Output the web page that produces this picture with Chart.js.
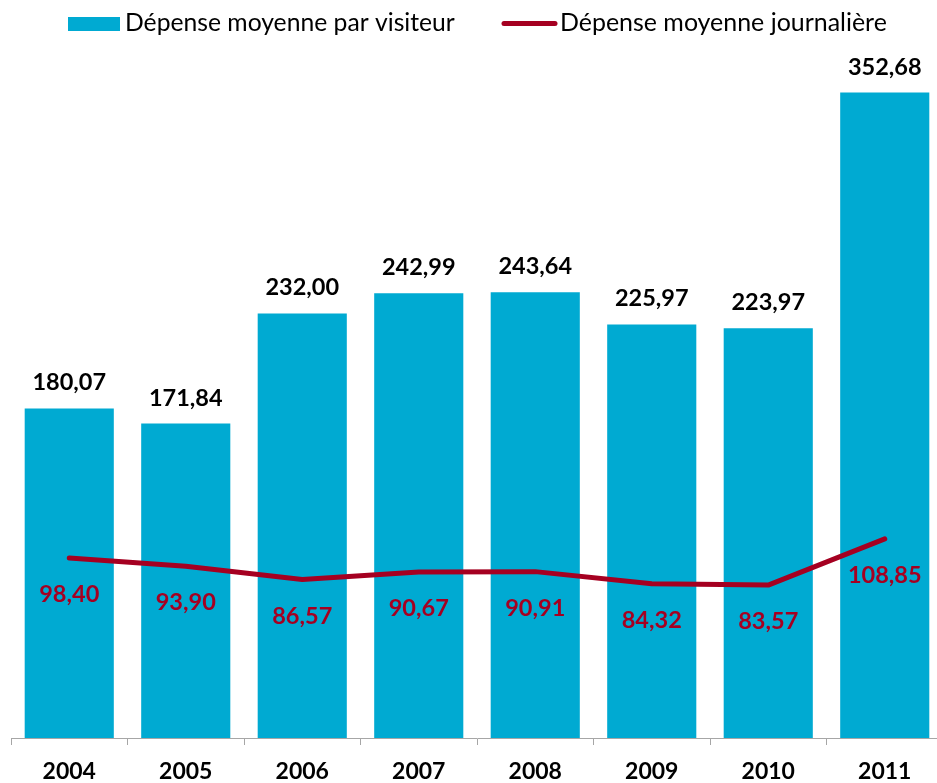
<!DOCTYPE html>
<html>
<head>
<meta charset="utf-8">
<script src="https://cdn.jsdelivr.net/npm/chart.js@4/dist/chart.umd.min.js"></script>
<style>
  html, body { margin: 0; padding: 0; background: #fff; overflow: hidden; width: 937px; height: 783px; }
  #wrap { position: relative; width: 945px; height: 783px; }
  canvas { position: absolute; left: 0; top: 0; }
</style>
</head>
<body>
<div id="wrap">
  <canvas id="c" width="945" height="783"></canvas>
</div>
<script>
const categories = ["2004", "2005", "2006", "2007", "2008", "2009", "2010", "2011"];
const spendPerVisitor = [180.07, 171.84, 232.00, 242.99, 243.64, 225.97, 223.97, 352.68];
const spendPerDay = [98.40, 93.90, 86.57, 90.67, 90.91, 84.32, 83.57, 108.85];
const seriesNames = ["Dépense moyenne par visiteur", "Dépense moyenne journalière"];

const BAR_COLOR = '#00AAD2';
const LINE_COLOR = '#A50021';
const FONT = 'Lato, "Open Sans", sans-serif';

const fmt = v => v.toFixed(2).replace('.', ',');

function fitFont(ctx, text, weight, targetWidth) {
  ctx.font = weight + ' 20px ' + FONT;
  const w = ctx.measureText(text).width;
  return 20 * targetWidth / w;
}

const labelPlugin = {
  id: 'valueLabels',
  afterDatasetsDraw(chart) {
    const ctx = chart.ctx;
    ctx.save();
    ctx.textAlign = 'center';
    ctx.textBaseline = 'alphabetic';
    ctx.font = 'bold 23.5px ' + FONT;
    const barMeta = chart.getDatasetMeta(1);
    barMeta.data.forEach((el, i) => {
      ctx.fillStyle = '#000';
      ctx.fillText(fmt(spendPerVisitor[i]), el.x, el.y - 18);
    });
    const lineMeta = chart.getDatasetMeta(0);
    lineMeta.data.forEach((el, i) => {
      ctx.fillStyle = LINE_COLOR;
      ctx.fillText(fmt(spendPerDay[i]), el.x, el.y + 44);
    });
    ctx.restore();
  }
};

const legendPlugin = {
  id: 'customLegend',
  afterDraw(chart) {
    const ctx = chart.ctx;
    ctx.save();
    // bar legend
    ctx.fillStyle = BAR_COLOR;
    ctx.fillRect(68, 17, 52, 14);
    ctx.fillStyle = '#000';
    ctx.textAlign = 'left';
    ctx.textBaseline = 'alphabetic';
    let s1 = fitFont(ctx, seriesNames[0], 'normal', 330);
    ctx.font = 'normal ' + s1 + 'px ' + FONT;
    ctx.fillText(seriesNames[0], 125, 31);
    // line legend
    ctx.strokeStyle = LINE_COLOR;
    ctx.lineWidth = 5;
    ctx.lineCap = 'round';
    ctx.beginPath();
    ctx.moveTo(504, 23.5);
    ctx.lineTo(555, 23.5);
    ctx.stroke();
    let s2 = fitFont(ctx, seriesNames[1], 'normal', 327);
    ctx.font = 'normal ' + s2 + 'px ' + FONT;
    ctx.fillStyle = '#000';
    ctx.fillText(seriesNames[1], 560, 31);
    ctx.restore();
  }
};

new Chart(document.getElementById('c'), {
  type: 'bar',
  data: {
    labels: categories,
    datasets: [
      {
        type: 'line',
        label: seriesNames[1],
        data: spendPerDay,
        borderColor: LINE_COLOR,
        backgroundColor: LINE_COLOR,
        borderWidth: 5,
        pointRadius: 0,
        tension: 0,
        borderCapStyle: 'round',
        borderJoinStyle: 'round',
        order: 0
      },
      {
        type: 'bar',
        label: seriesNames[0],
        data: spendPerVisitor,
        backgroundColor: BAR_COLOR,
        borderWidth: 0,
        barPercentage: 0.765,
        categoryPercentage: 1.0,
        order: 1
      }
    ]
  },
  options: {
    responsive: false,
    animation: false,
    devicePixelRatio: 1,
    layout: { padding: { left: 11, right: 2, top: 6, bottom: 0 } },
    plugins: { legend: { display: false }, tooltip: { enabled: false } },
    scales: {
      x: {
        grid: { display: true, drawOnChartArea: false, drawTicks: true, tickLength: 7, color: '#A6A6A6', offset: true },
        border: { display: true, color: '#A6A6A6', width: 1 },
        ticks: { color: '#000', font: { family: FONT, size: 23, weight: 'bold' }, padding: 13, maxRotation: 0 },
        afterFit(scale) { scale.height = 45; }
      },
      y: {
        display: false,
        min: 0,
        max: 400
      }
    }
  },
  plugins: [labelPlugin, legendPlugin]
});
</script>
</body>
</html>
